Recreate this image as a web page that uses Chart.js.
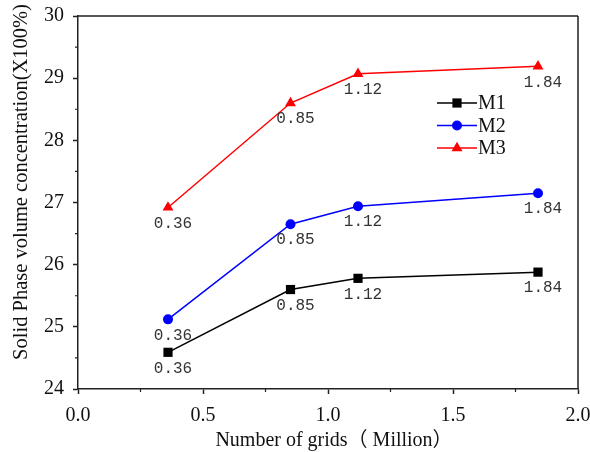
<!DOCTYPE html>
<html>
<head>
<meta charset="utf-8">
<script src="https://cdn.jsdelivr.net/npm/chart.js@4"></script>
<style>
  body { margin: 0; background: #fff; }
  #wrap { width: 590px; height: 452px; }
</style>
</head>
<body>
<div id="wrap"><canvas id="solidChart" width="590" height="452"></canvas></div>
<script>
// grid counts (million) and solid phase volume concentration per model
const grids = [0.36, 0.85, 1.12, 1.84];
const gridLabels = ['0.36', '0.85', '1.12', '1.84'];
const m1 = [24.59, 25.60, 25.78, 25.88];
const m2 = [25.12, 26.65, 26.94, 27.15];
const m3 = [26.92, 28.60, 29.07, 29.19];
const seriesNames = ['M1', 'M2', 'M3'];
const xMinor = [0.25, 0.75, 1.25, 1.75];
const yMinor = [24.5, 25.5, 26.5, 27.5, 28.5, 29.5];
const xTitle = 'Number of grids（ Million）';
const yTitle = 'Solid Phase volume concentration(X100%)';

const AXIS = '#222';
const SERIF = '"Liberation Serif", "Times New Roman", "Noto Sans CJK SC", serif';

function pts(vals) {
  return grids.map((g, i) => ({ x: g, y: vals[i] }));
}

// extra frame: top/right border, minor ticks, axis titles
const framePlugin = {
  id: 'frame',
  afterDraw(chart) {
    const { ctx, chartArea: a, scales } = chart;
    ctx.save();
    ctx.strokeStyle = AXIS;
    ctx.lineWidth = 1.5;
    ctx.beginPath();
    ctx.moveTo(a.left, a.top); ctx.lineTo(a.right, a.top);
    ctx.moveTo(a.right, a.top); ctx.lineTo(a.right, a.bottom);
    ctx.stroke();
    ctx.lineWidth = 1.2;
    ctx.beginPath();
    xMinor.forEach(v => {
      const x = scales.x.getPixelForValue(v);
      ctx.moveTo(x, a.bottom); ctx.lineTo(x, a.bottom + 3);
    });
    yMinor.forEach(v => {
      const y = scales.y.getPixelForValue(v);
      ctx.moveTo(a.left, y); ctx.lineTo(a.left - 3, y);
    });
    ctx.stroke();

    ctx.fillStyle = '#111';
    ctx.font = '20px ' + SERIF;
    ctx.textAlign = 'center';
    ctx.textBaseline = 'middle';
    ctx.fillText(xTitle, 334, 441);
    ctx.translate(22, 182);
    ctx.rotate(-Math.PI / 2);
    ctx.font = '20.5px ' + SERIF;
    ctx.fillText(yTitle, 0, 0);
    ctx.restore();
  }
};

// grid count labels under every point
const labelPlugin = {
  id: 'ptLabels',
  afterDatasetsDraw(chart) {
    const ctx = chart.ctx;
    ctx.save();
    ctx.fillStyle = '#333';
    ctx.font = '16px "Liberation Mono", monospace';
    ctx.textAlign = 'center';
    ctx.textBaseline = 'middle';
    chart.data.datasets.forEach((ds, di) => {
      const meta = chart.getDatasetMeta(di);
      meta.data.forEach((p, i) => {
        ctx.fillText(gridLabels[i], p.x + 5, p.y + 16);
      });
    });
    ctx.restore();
  }
};

// line-marker-line legend
const legendPlugin = {
  id: 'lineLegend',
  afterDraw(chart) {
    const ctx = chart.ctx;
    ctx.save();
    ctx.font = '20px ' + SERIF;
    ctx.textBaseline = 'middle';
    ctx.textAlign = 'left';
    chart.data.datasets.forEach((ds, i) => {
      const y = 103 + i * 22.5;
      ctx.strokeStyle = ds.borderColor;
      ctx.lineWidth = 1.5;
      ctx.beginPath();
      ctx.moveTo(437, y); ctx.lineTo(477, y);
      ctx.stroke();
      ctx.fillStyle = ds.pointBackgroundColor;
      Chart.helpers.drawPoint(ctx, { pointStyle: ds.pointStyle, radius: ds.pointRadius, rotation: 0, borderWidth: 0 }, 457, y);
      ctx.fillStyle = '#111';
      ctx.fillText(seriesNames[i], 478, y + 1);
    });
    ctx.restore();
  }
};

const colors = ['#000000', '#0000ff', '#ff0000'];
const styles = ['rect', 'circle', 'triangle'];
const radii = [6.5, 5, 6.3];

new Chart(document.getElementById('solidChart'), {
  type: 'scatter',
  data: {
    datasets: [m1, m2, m3].map((vals, i) => ({
      label: seriesNames[i],
      data: pts(vals),
      showLine: true,
      borderColor: colors[i],
      backgroundColor: colors[i],
      pointBackgroundColor: colors[i],
      pointBorderColor: colors[i],
      pointBorderWidth: 0,
      borderWidth: 1.5,
      pointStyle: styles[i],
      pointRadius: radii[i],
      tension: 0
    }))
  },
  options: {
    responsive: false,
    animation: false,
    layout: { padding: { top: 16, right: 12, left: 0, bottom: 0 } },
    plugins: { legend: { display: false }, tooltip: { enabled: false } },
    scales: {
      x: {
        type: 'linear',
        min: 0, max: 2,
        afterFit: s => { s.height = 63; s.paddingLeft = 0; s.paddingRight = 0; },
        ticks: {
          stepSize: 0.5,
          color: '#111',
          padding: 10,
          maxRotation: 0,
          font: { family: SERIF, size: 20 },
          callback: v => v.toFixed(1)
        },
        grid: { drawOnChartArea: false, drawTicks: true, tickLength: 5, color: AXIS, tickWidth: 1.5 },
        border: { color: AXIS, width: 1.5 }
      },
      y: {
        min: 24, max: 30,
        afterFit: s => { s.width = 78; s.paddingTop = 0; s.paddingBottom = 0; },
        ticks: {
          stepSize: 1,
          color: '#111',
          padding: 9,
          font: { family: SERIF, size: 20 }
        },
        grid: { drawOnChartArea: false, drawTicks: true, tickLength: 5, color: AXIS, tickWidth: 1.5 },
        border: { color: AXIS, width: 1.5 }
      }
    }
  },
  plugins: [framePlugin, labelPlugin, legendPlugin]
});
</script>
</body>
</html>
